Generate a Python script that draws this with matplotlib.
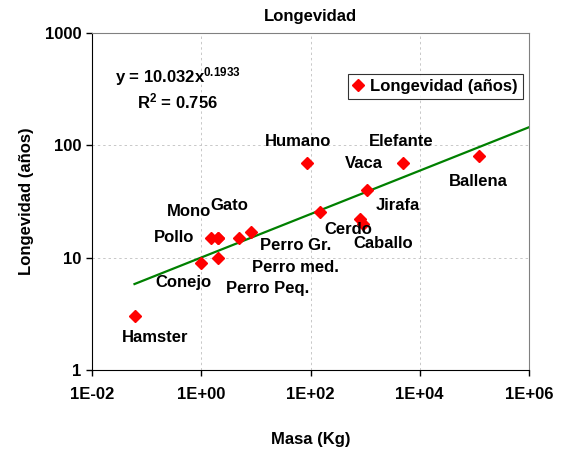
import numpy as np
import matplotlib
matplotlib.use("Agg")
import matplotlib.pyplot as plt
from matplotlib.ticker import FixedLocator, FuncFormatter, NullLocator

plt.rcParams['font.family'] = ['Liberation Sans', 'DejaVu Sans']
plt.rcParams['font.weight'] = 'bold'
plt.rcParams['mathtext.fontset'] = 'custom'
plt.rcParams['mathtext.rm'] = 'Liberation Sans:bold'
plt.rcParams['mathtext.it'] = 'Liberation Sans:bold'
plt.rcParams['mathtext.bf'] = 'Liberation Sans:bold'

# datos: masa (kg) y longevidad (anos)
animales = ["Hamster", "Conejo", "Perro Peq.", "Pollo", "Mono", "Gato",
            "Perro med.", "Perro Gr.", "Humano", "Cerdo", "Caballo", "Vaca",
            "Jirafa", "Elefante", "Ballena"]
masa = [0.06, 1, 2, 1.5, 2, 2, 5, 8, 85, 150, 900, 800, 1100, 5000, 120000]
longevidad = [3, 9, 10, 15, 15, 15, 15, 17, 70, 25.5, 20, 22, 40, 70, 80]

# ajuste potencial mostrado en la grafica
coef_a = 10.032
coef_b = 0.1933
r2 = 0.756

# posiciones de las etiquetas (pixeles de la figura original)
etiq_px = [(155, 337), (183, 283), (268, 288), (174, 237), (189, 212),
           (229, 205), (295, 268), (296, 246), (298, 141), (348, 229),
           (383, 243), (364, 163), (398, 206), (401, 141), (478, 182)]

FS = 12

fig = plt.figure(figsize=(5.63, 4.55), dpi=100)
ax = fig.add_axes([92 / 563, 85 / 455, 437 / 563, 337 / 455])

ax.set_xscale('log')
ax.set_yscale('log')
ax.set_xlim(1e-2, 1e6)
ax.set_ylim(1, 1000)

ax.plot(masa, longevidad, linestyle='none', marker='D', markersize=6,
        color='#ff0000', markeredgecolor='#ff0000', label='Longevidad (años)',
        zorder=3)

xs = np.logspace(np.log10(min(masa)), 6, 100)
ax.plot(xs, coef_a * xs ** coef_b, color='#008000', linewidth=1.6, zorder=2)

for nombre, (px, py) in zip(animales, etiq_px):
    ax.text((px - 92) / 437, (370 - py) / 337, nombre, transform=ax.transAxes,
            ha='center', va='center', fontsize=FS, fontweight='bold')

ax.text(115 / 563, (455 - 77) / 455, f"y = {coef_a}x$^{{{coef_b}}}$",
        transform=fig.transFigure, ha='left', va='center', fontsize=FS,
        fontweight='bold')
ax.text(137 / 563, (455 - 101) / 455, f"R$^{{2}}$ = {r2}",
        transform=fig.transFigure, ha='left', va='center', fontsize=FS,
        fontweight='bold')

ax.xaxis.set_major_locator(FixedLocator([1e-2, 1, 1e2, 1e4, 1e6]))
ax.xaxis.set_minor_locator(NullLocator())
ax.xaxis.set_major_formatter(FuncFormatter(lambda v, p: f"1E{int(round(np.log10(v))):+03d}"))
ax.yaxis.set_major_locator(FixedLocator([1, 10, 100, 1000]))
ax.yaxis.set_minor_locator(NullLocator())
ax.yaxis.set_major_formatter(FuncFormatter(lambda v, p: f"{int(v)}"))

ax.tick_params(axis='both', labelsize=FS, length=4, width=1, color='black')
ax.tick_params(axis='x', pad=8)
for lab in ax.get_xticklabels() + ax.get_yticklabels():
    lab.set_fontweight('bold')

ax.grid(True, which='major', linestyle=(0, (2.5, 3)), color='#c8c8c8', linewidth=0.7)
ax.set_axisbelow(True)

ax.spines['left'].set_color('black')
ax.spines['bottom'].set_color('black')
ax.spines['top'].set_color('#808080')
ax.spines['right'].set_color('#808080')

ax.set_title("Longevidad", fontsize=FS, fontweight='bold', pad=9)
ax.set_xlabel("Masa (Kg)", fontsize=FS, fontweight='bold', labelpad=22)
ax.set_ylabel("Longevidad (años)", fontsize=FS, fontweight='bold', labelpad=8)

leg = ax.legend(loc='upper right', bbox_to_anchor=((531 - 92) / 437, (370 - 66) / 337),
                fontsize=FS, frameon=True, fancybox=False, handlelength=0.6,
                handletextpad=0.4, borderpad=0.3, markerscale=1.0)
leg.get_frame().set_edgecolor('black')
leg.get_frame().set_linewidth(0.8)
for t in leg.get_texts():
    t.set_fontweight('bold')

fig.savefig("out.png", dpi=100)
